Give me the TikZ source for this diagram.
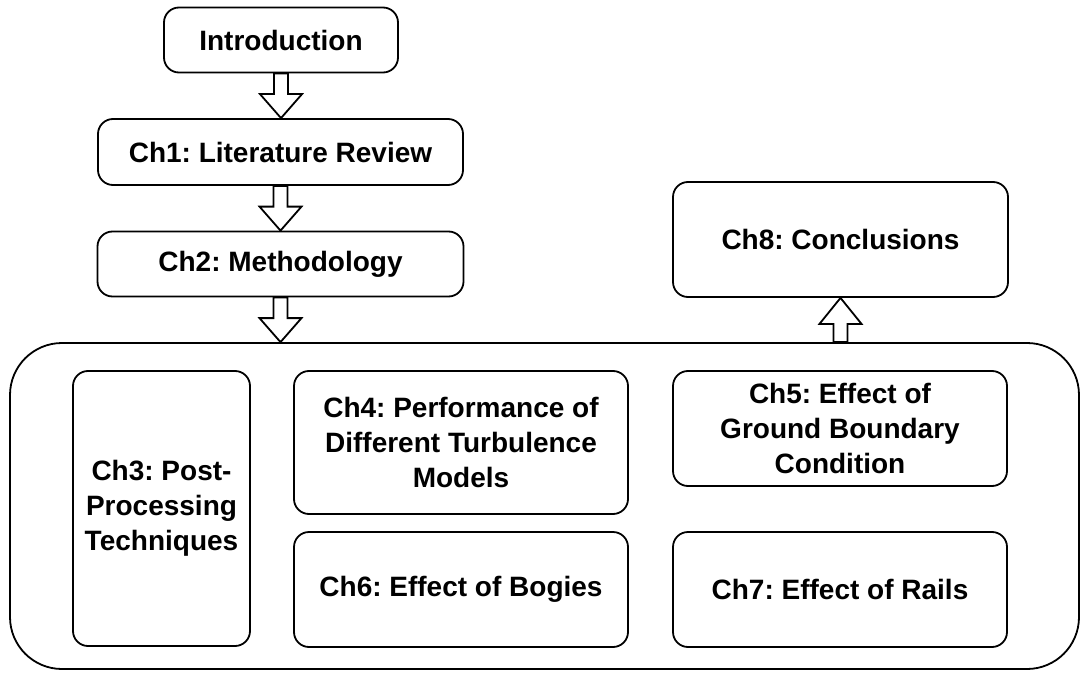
\documentclass[tikz,border=0pt]{standalone}
\usepackage{fontspec}
\setmainfont{Liberation Sans}
\usetikzlibrary{calc}
\tikzset{
  chbox/.style={draw=black, line width=1.8pt, rounded corners=15pt, fill=white,
    inner sep=0pt, align=center, font=\fontsize{28}{35}\selectfont\bfseries\frenchspacing},
  bigbox/.style={draw=black, line width=1.8pt, rounded corners=52pt, inner sep=0pt},
  blk/.style={draw=black, line width=1.8pt, fill=white, line join=miter},
}
\newcommand\downarr[2]{%
  \draw[blk] ($(#1)+(-7pt,0)$) -- ($(#2)+(-7pt,24pt)$) -- ($(#2)+(-21pt,24pt)$) -- (#2)
    -- ($(#2)+(21pt,24pt)$) -- ($(#2)+(7pt,24pt)$) -- ($(#1)+(7pt,0)$) -- cycle;}
\newcommand\uparr[2]{%
  \draw[blk] ($(#1)+(-7pt,0)$) -- ($(#2)+(-7pt,-26pt)$) -- ($(#2)+(-21pt,-26pt)$) -- (#2)
    -- ($(#2)+(21pt,-26pt)$) -- ($(#2)+(7pt,-26pt)$) -- ($(#1)+(7pt,0)$) -- cycle;}
\begin{document}
\begin{tikzpicture}[x=1pt,y=-1pt]
\useasboundingbox (0,0) rectangle (1087,674);
\node[bigbox, minimum width=1069pt, minimum height=326pt] (big) at (544.5,506) {};
\node[chbox, minimum width=234pt, minimum height=65pt] (intro) at (281,40) {Introduction};
\node[chbox, minimum width=365pt, minimum height=66pt] (ch1) at (280.5,152) {Ch1: Literature Review};
\node[chbox, minimum width=366pt, minimum height=65pt] (ch2) at (280.5,264) {Ch2: Methodology};
\node[chbox, minimum width=335pt, minimum height=115pt] (ch8) at (840.5,239.5) {Ch8: Conclusions};
\node[chbox, minimum width=177pt, minimum height=275pt] (ch3) at (161.5,508.5) {Ch3: Post-\\Processing\\Techniques};
\node[chbox, minimum width=334pt, minimum height=143pt] (ch4) at (461,442.5) {Ch4: Performance of\\Different Turbulence\\Models};
\node[chbox, minimum width=334pt, minimum height=115pt] (ch6) at (461,589.5) {Ch6: Effect of Bogies};
\node[chbox, minimum width=334pt, minimum height=115pt] (ch5) at (840,428.5) {Ch5: Effect of\\Ground Boundary\\Condition};
\node[chbox, minimum width=334pt, minimum height=115pt] (ch7) at (840,589.5) {Ch7: Effect of Rails};
\coordinate (t3) at (ch2.south |- big.north);
\coordinate (t4) at (ch8.south |- big.north);
\downarr{intro.south}{intro.south |- ch1.north}
\downarr{ch1.south}{ch1.south |- ch2.north}
\downarr{ch2.south}{t3}
\uparr{t4}{ch8.south}
\end{tikzpicture}
\end{document}
